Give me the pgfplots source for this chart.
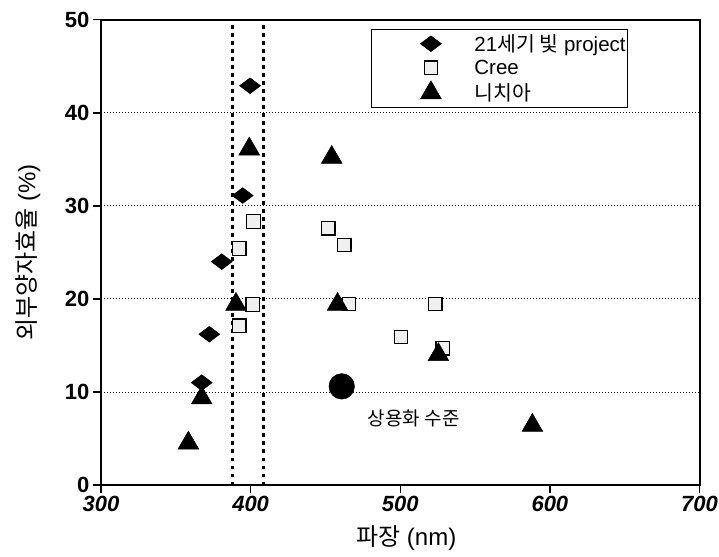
\documentclass[border=0pt]{standalone}
\usepackage{fontspec}
\setmainfont{Liberation Sans}
\newfontfamily\kr{Noto Sans CJK KR}
\usepackage{pgfplots}
\pgfplotsset{compat=1.18}
\begin{document}
\begin{tikzpicture}
\begin{axis}[
  scale only axis, width=598.5pt, height=465.3pt,
  xmin=300, xmax=700, ymin=0, ymax=50,
  xtick={300,400,500,600,700}, ytick={0,10,20,30,40,50},
  axis line style={line width=2pt},
  every tick/.style={black, line width=1.5pt},
  tick align=outside, major tick length=8pt,
  xtick pos=left, ytick pos=left,
  ymajorgrids, grid style={black, line width=0.8pt, dash pattern=on 1pt off 2pt},
  /pgf/number format/assume math mode=true,
  y tick label style={font=\fontsize{22}{26}\selectfont\bfseries},
  x tick label style={font=\fontsize{22}{26}\selectfont\bfseries\itshape},
  xlabel={{\kr 파장} (nm)}, ylabel={{\kr 외부양자효율} (\%)},
  label style={font=\fontsize{24}{28}\selectfont},
  xlabel style={at={(axis description cs:0.51,-0.114)}, anchor=center},
  ylabel style={at={(axis description cs:-0.122,0.5)}, anchor=center},
  legend style={at={(0.451,0.98)}, anchor=north west, draw=black, line width=1pt,
    font=\fontsize{20.5}{24}\selectfont, inner xsep=0pt, inner ysep=3pt, row sep=3pt,
    cells={anchor=west}},
  legend image code/.code={\draw[#1] plot coordinates {(0pt,0pt)}; \path (-59pt,0pt) (41pt,0pt);},
]
\addplot[black, line width=3.5pt, dash pattern=on 3.5pt off 4.5pt, forget plot] coordinates {(388,0) (388,50)};
\addplot[black, line width=3.5pt, dash pattern=on 3.5pt off 4.5pt, forget plot] coordinates {(408.5,0) (408.5,50)};

\addplot[only marks, mark=diamond*, mark size=10.5pt, mark options={rotate=90, fill=black, draw=black, line width=0.5pt}]
  coordinates {(399.6,42.9) (394.7,31.1) (380.7,24.0) (372.4,16.2) (367.3,11.0)};
\addlegendentry{21{\kr 세기 빛} project}

\addplot[only marks, mark=square*, mark size=6.8pt, mark options={fill=gray!12, draw=black, line width=1.2pt}]
  coordinates {(401.8,28.3) (392.4,25.4) (401.4,19.4) (392.4,17.1) (451.9,27.6) (462.6,25.8) (465.8,19.45) (523.3,19.45) (500.5,15.9) (528.4,14.7)};
\addlegendentry{Cree}

\addplot[only marks, mark=triangle*, mark size=12pt, mark options={fill=black, draw=black, line width=0.5pt}]
  coordinates {(399.1,36.1) (454.2,35.2) (390.2,19.4) (458.1,19.4) (525.5,14.0) (588.3,6.4) (367.3,9.35) (358.4,4.5)};
\addlegendentry{{\kr 니치아}}

\addplot[only marks, mark=*, mark size=12.8pt, mark options={fill=black, draw=black}, forget plot]
  coordinates {(460.9,10.6)};

\node[font=\kr\fontsize{19}{22}\selectfont] at (axis cs:509,7.2) {상용화 수준};

\coordinate (bl) at (rel axis cs:0,0);
\coordinate (tr) at (rel axis cs:1,1);
\end{axis}
\pgfresetboundingbox
\path ([shift={(-101pt,-71pt)}]bl) rectangle ([shift={(19.5pt,19.7pt)}]tr);
\end{tikzpicture}
\end{document}
